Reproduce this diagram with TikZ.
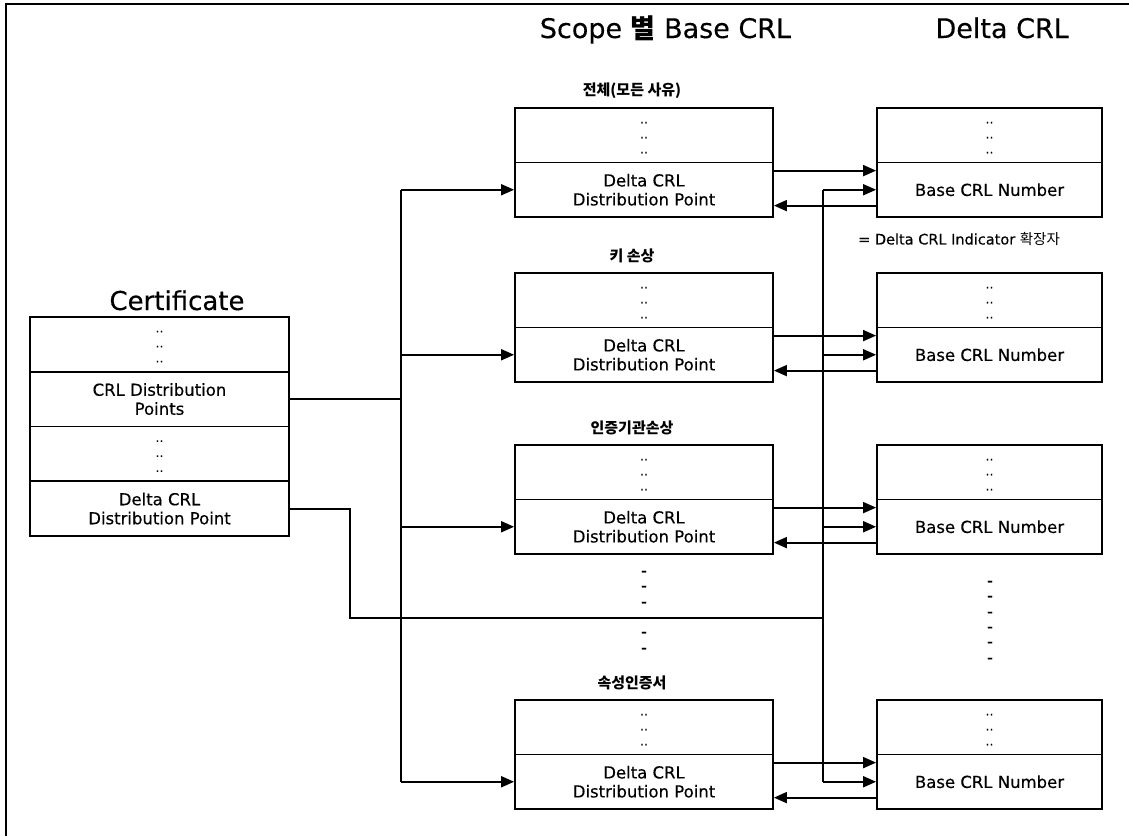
\documentclass[tikz,border=0pt]{standalone}
\usepackage{fontspec}
\setmainfont{DejaVu Sans}[FakeBold=0.3]
\newfontfamily\kr{Noto Sans CJK KR}
\usetikzlibrary{arrows.meta}
\begin{document}
\begin{tikzpicture}[x=1pt,y=-1pt,
  ln/.style={line width=1.8pt},
  arr/.style={line width=1.8pt,-{Triangle[length=13pt,width=11pt]}},
  row/.style={draw,line width=1.8pt,inner sep=0pt,align=center,font=\fontsize{16.5}{19}\selectfont},
  crow/.style={row,minimum width=259pt,minimum height=54.75pt},
  brow/.style={row,minimum width=258pt,minimum height=54.5pt},
  drow/.style={row,minimum width=225pt,minimum height=54.5pt},
  dotrow/.style={font=\fontsize{12}{15}\selectfont},
  lab/.style={font=\kr\bfseries\fontsize{15}{18}\selectfont,inner sep=0pt},
  title/.style={font=\fontsize{27}{32}\selectfont,inner sep=0pt},
  dashmark/.style={font=\fontsize{16}{18}\selectfont,inner sep=0pt}
]
\useasboundingbox (0,0) rectangle (1129,836);
% frame
\draw[line width=1.2pt] (1129,4) -- (6,4) -- (6,836);

% titles
\node[title,anchor=base] (tscope) at (665.5,38) {Scope {\kr\bfseries 별} Base CRL};
\node[title,anchor=base east] (tdelta) at (1069,38) {Delta CRL};
\node[title,font=\fontsize{26}{30}\selectfont,anchor=base] (tcert) at (177,310) {Certificate};

% certificate box
\node[crow,dotrow] (c1) at (159.5,344.4) {\rule{0pt}{6pt}..\\..\\..};
\node[crow] (c2) at (159.5,399.1) {CRL Distribution\\Points};
\node[crow,dotrow] (c3) at (159.5,453.9) {\rule{0pt}{6pt}..\\..\\..};
\node[crow] (c4) at (159.5,508.6) {Delta CRL\\Distribution Point};

% base CRL boxes and delta CRL boxes
\foreach \i/\t in {1/108,2/273,3/445,4/700}{
  \node[brow,dotrow] (b\i-top) at (644,\t+27.25) {\rule{0pt}{6pt}..\\..\\..};
  \node[brow] (b\i-bot) at (644,\t+81.75) {Delta CRL\\Distribution Point};
  \node[drow,dotrow] (d\i-top) at (989.5,\t+27.25) {\rule{0pt}{6pt}..\\..\\..};
  \node[drow] (d\i-bot) at (989.5,\t+81.75) {Base CRL Number};
}

% labels
\node[lab] (l1) at (632,91) {전체(모든 사유)};
\node[lab] (l2) at (632,256) {키 손상};
\node[lab] (l3) at (632,428) {인증기관손상};
\node[lab] (l4) at (632,683) {속성인증서};
\node[anchor=west,inner sep=0pt,font=\fontsize{14.5}{17}\selectfont] (ind) at (858,239) {= Delta CRL Indicator {\kr 확장자}};

% dashes
\foreach \y [count=\k] in {572,587,603,633,649}{
  \node[dashmark] (bd\k) at (644,\y+1.5) {-};
}
\foreach \y [count=\k] in {582,597,613,628,643,659}{
  \node[dashmark] (dd\k) at (990,\y+1.5) {-};
}

% bus from CRL Distribution Points
\path (b1-bot.west) ++(-113,0) coordinate (busT);
\path (b4-bot.west) ++(-113,0) coordinate (busB);
\draw[ln] (c2.east) -- (c2.east -| busT);
\draw[ln] (busT) -- (busB);
\draw[arr] (busT) -- (b1-bot.west);
\draw[arr] (b2-bot.west -| busT) -- (b2-bot.west);
\draw[arr] (b3-bot.west -| busT) -- (b3-bot.west);
\draw[arr] (busB) -- (b4-bot.west);

% line from Delta CRL Distribution Point of certificate
\path (d1-bot.west) ++(-53,0) coordinate (vT);
\path (d4-bot.west) ++(-53,0) coordinate (vB);
\coordinate (jn) at (350,618);
\draw[ln] (c4.east) -| (jn) -- (jn -| vT);
\draw[ln] (vT) -- (vB);
\draw[arr] (vT) -- (d1-bot.west);
\draw[arr] (d2-bot.west -| vT) -- (d2-bot.west);
\draw[arr] (d3-bot.west -| vT) -- (d3-bot.west);
\draw[arr] (vB) -- (d4-bot.west);

% base <-> delta arrows
\foreach \i in {1,2,3,4}{
  \draw[arr] ([yshift=-9pt]b\i-bot.north east) -- ([yshift=-9pt]d\i-bot.north west);
  \draw[arr] ([yshift=-44pt]d\i-bot.north west) -- ([yshift=-44pt]b\i-bot.north east);
}
\end{tikzpicture}
\end{document}
